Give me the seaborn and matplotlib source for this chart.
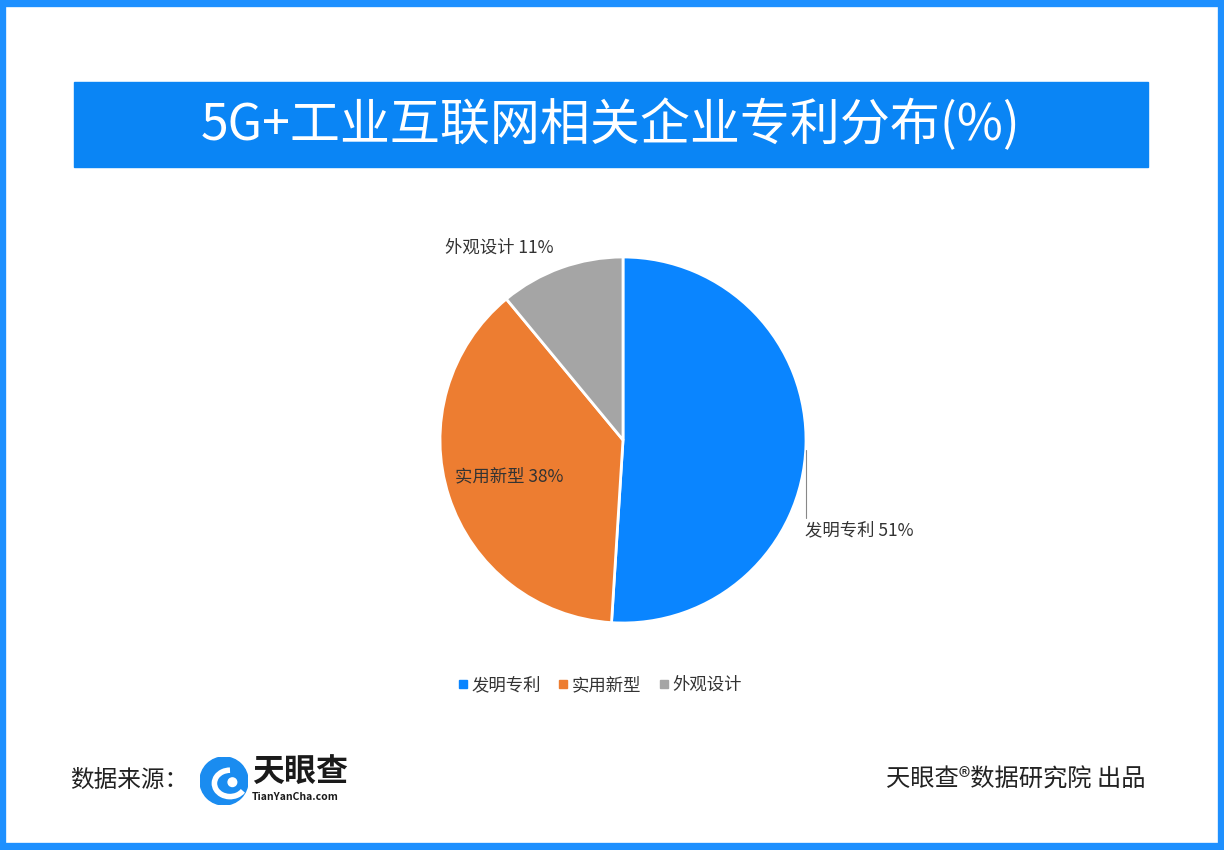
import matplotlib
matplotlib.use("Agg")
import matplotlib.pyplot as plt
import seaborn as sns
from matplotlib.patches import Rectangle, Circle, Arc

categories = ["发明专利", "实用新型", "外观设计"]
shares = [51, 38, 11]
colors = ["#0A85FF", "#ED7D31", "#A5A5A5"]

sns.set_theme(style="white")
plt.rcParams["font.family"] = ["Noto Sans CJK SC", "DejaVu Sans"]

W, H = 1224, 850
fig = plt.figure(figsize=(W / 100, H / 100), dpi=100)
fig.patch.set_facecolor("white")


def px(x, y):
    return x / W, 1 - y / H


# outer frame and title bar
fig.patches.append(Rectangle((0.002, 0.003), 0.996, 0.994, transform=fig.transFigure,
                             fill=False, edgecolor="#1E90FF", linewidth=6))
fig.patches.append(Rectangle(px(74, 167), (1148 - 74) / W, (167 - 82) / H,
                             transform=fig.transFigure, color="#0A85F5"))
fig.text(*px(611, 126), "5G+工业互联网相关企业专利分布(%)", color="white",
         fontsize=36, ha="center", va="center")

# pie
cx, cy, r = 623, 440, 183
ax = fig.add_axes([(cx - r) / W, (H - cy - r) / H, 2 * r / W, 2 * r / H])
ax.pie(shares, colors=colors, startangle=90, counterclock=False,
       wedgeprops=dict(edgecolor="white", linewidth=2))
ax.set_xlim(-1, 1)
ax.set_ylim(-1, 1)
ax.set_aspect("equal")

fs = 12.5
fig.text(*px(445, 248), f"{categories[2]} {shares[2]}%", fontsize=fs, color="#333333", va="center")
fig.text(*px(455, 476), f"{categories[1]} {shares[1]}%", fontsize=fs, color="#333333", va="center")
fig.text(*px(805, 530), f"{categories[0]} {shares[0]}%", fontsize=fs, color="#333333", va="center")
fig.lines.append(plt.Line2D([806 / W, 806 / W], [1 - 450 / H, 1 - 518 / H],
                            transform=fig.transFigure, color="#888888", linewidth=0.8))

# legend
handles = [plt.Line2D([], [], marker="s", linestyle="", markersize=6, color=c) for c in colors]
fig.legend(handles, categories, loc="center", bbox_to_anchor=px(598, 685), ncol=3,
           frameon=False, fontsize=12.5, handletextpad=0.0, handlelength=1.0,
           columnspacing=0.8, labelcolor="#333333")

# footer
fig.text(*px(70, 780), "数据来源：", fontsize=17, color="#222222", va="center")
lax = fig.add_axes([200 / W, 1 - 805 / H, 48 / W, 48 / H])
lax.set_xlim(-1, 1); lax.set_ylim(-1, 1); lax.set_aspect("equal"); lax.axis("off")
lax.add_patch(Circle((0, 0), 1, color="#1A8CF0"))
lax.add_patch(Arc((0.25, -0.1), 1.3, 1.1, theta1=90, theta2=330, color="white", linewidth=4))
lax.add_patch(Circle((0.35, -0.05), 0.18, color="white"))
fig.text(*px(252, 773), "天眼查", fontsize=23, fontweight="bold", color="#1A1A1A", va="center")
fig.text(*px(252, 797), "TianYanCha.com", fontsize=7.5, fontweight="bold", color="#1A1A1A", va="center")
fig.text(*px(1145, 780), "天眼查®数据研究院 出品", fontsize=17.5, color="#222222",
         va="center", ha="right")

fig.savefig("out.png", dpi=100)
